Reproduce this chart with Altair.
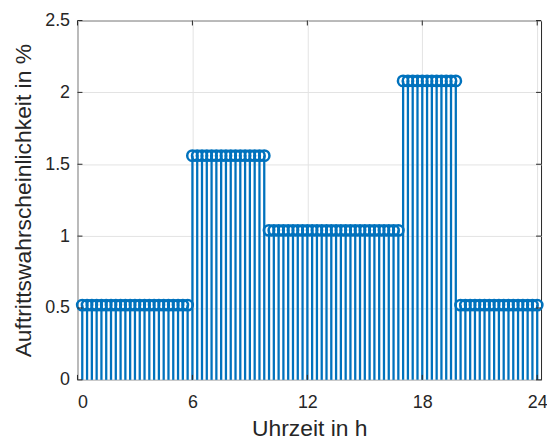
import altair as alt
import pandas as pd

# time grid in hours (15-minute steps)
hours = [k * 0.25 for k in range(1, 97)]

# occurrence probability in % per time step
prob = [
    0.52, 0.52, 0.52, 0.52, 0.52, 0.52, 0.52, 0.52, 0.52, 0.52, 0.52, 0.52,
    0.52, 0.52, 0.52, 0.52, 0.52, 0.52, 0.52, 0.52, 0.52, 0.52, 0.52,
    1.56, 1.56, 1.56, 1.56, 1.56, 1.56, 1.56, 1.56, 1.56, 1.56, 1.56, 1.56,
    1.56, 1.56, 1.56, 1.56,
    1.04, 1.04, 1.04, 1.04, 1.04, 1.04, 1.04, 1.04, 1.04, 1.04, 1.04, 1.04,
    1.04, 1.04, 1.04, 1.04, 1.04, 1.04, 1.04, 1.04, 1.04, 1.04, 1.04, 1.04,
    1.04, 1.04, 1.04, 1.04,
    2.08, 2.08, 2.08, 2.08, 2.08, 2.08, 2.08, 2.08, 2.08, 2.08, 2.08, 2.08,
    0.52, 0.52, 0.52, 0.52, 0.52, 0.52, 0.52, 0.52, 0.52, 0.52, 0.52, 0.52,
    0.52, 0.52, 0.52, 0.52, 0.52,
]

x_ticks = [0, 6, 12, 18, 24]
y_ticks = [0, 0.5, 1, 1.5, 2, 2.5]

W, H = 467, 362
BLUE = "#0072BD"
TXT = "#262626"
FONT = "Liberation Sans"

df = pd.DataFrame({"t": hours, "p": prob})
xt = pd.DataFrame({"t": x_ticks})
yt = pd.DataFrame({"p": y_ticks})

xscale = alt.Scale(domain=[0, 24.2], nice=False, zero=False)
yscale = alt.Scale(domain=[0, 2.5], nice=False)

xaxis = alt.Axis(values=x_ticks, title="Uhrzeit in h", grid=True, ticks=False,
                 domain=False, labelPadding=14, titlePadding=6,
                 labelExpr="'' + datum.value")
yaxis = alt.Axis(values=y_ticks, title="Auftrittswahrscheinlichkeit in %",
                 grid=True, ticks=False, domain=False, labelPadding=8,
                 titlePadding=9, labelExpr="'' + datum.value")

X = alt.X("t:Q", scale=xscale, axis=xaxis, title="Uhrzeit in h")
Y = alt.Y("p:Q", scale=yscale, axis=yaxis, title="Auftrittswahrscheinlichkeit in %")

stems = alt.Chart(df).mark_rule(color=BLUE, strokeWidth=2.3).encode(
    x=X, y=Y, y2=alt.datum(0),
)

heads = alt.Chart(df).mark_point(shape="circle", filled=False, color=BLUE,
                                 size=110, strokeWidth=2.5, opacity=1).encode(
    x=X, y=Y,
)

tick_len = 5
yt_left = alt.Chart(yt).mark_rule(color=TXT, strokeWidth=1).encode(
    y=Y, x=alt.value(0), x2=alt.value(tick_len))
yt_right = alt.Chart(yt).mark_rule(color=TXT, strokeWidth=1).encode(
    y=Y, x=alt.value(W - tick_len), x2=alt.value(W))
xt_bottom = alt.Chart(xt).mark_rule(color=TXT, strokeWidth=1).encode(
    x=X, y=alt.value(H - tick_len), y2=alt.value(H))
xt_top = alt.Chart(xt).mark_rule(color=TXT, strokeWidth=1).encode(
    x=X, y=alt.value(0), y2=alt.value(tick_len))

chart = alt.layer(stems, heads, yt_left, yt_right, xt_bottom, xt_top).properties(
    width=W, height=H,
    background="white",
    autosize=alt.AutoSizeParams(type="none"),
    padding={"left": 70, "top": 11, "right": 6, "bottom": 62},
).configure_view(
    stroke=TXT, strokeWidth=1
).configure_axis(
    labelFont=FONT, titleFont=FONT, labelFontSize=18, titleFontSize=23,
    labelColor=TXT, titleColor=TXT, titleFontWeight="normal",
    gridColor="#e3e3e3", gridWidth=1,
)

chart.save("out.html", embed_options={"renderer": "svg", "actions": False})
